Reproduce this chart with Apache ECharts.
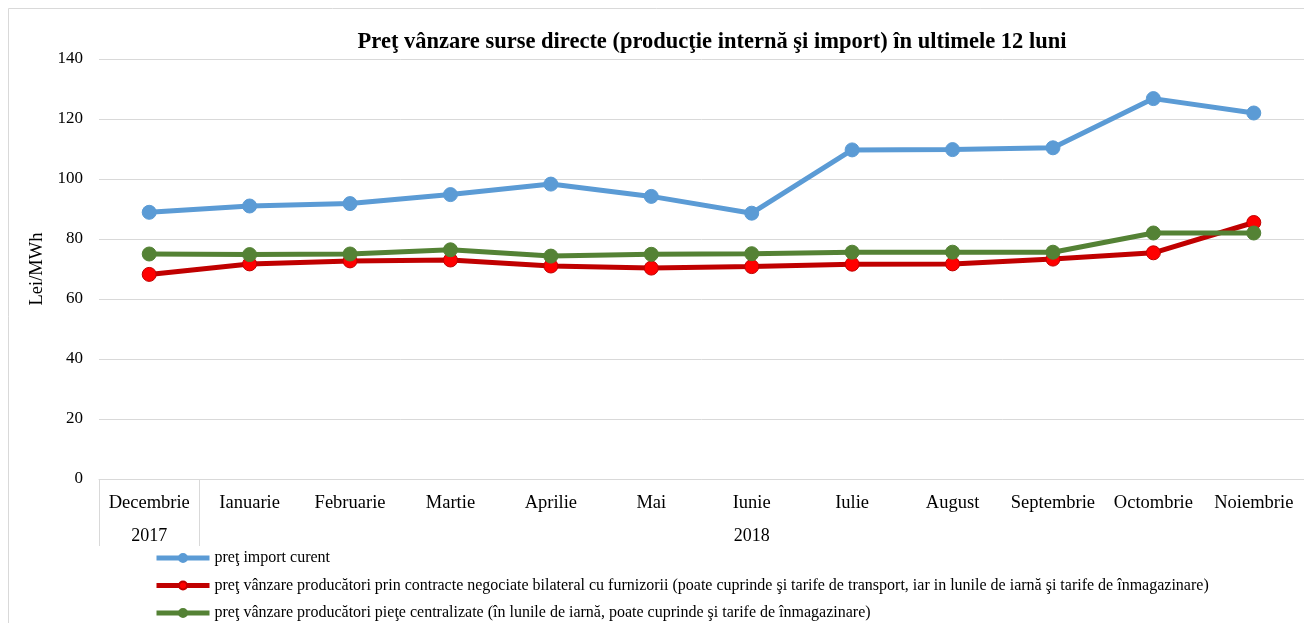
<!DOCTYPE html>
<html>
<head>
<meta charset="utf-8">
<script src="https://cdn.jsdelivr.net/npm/echarts@6/dist/echarts.min.js"></script>
<style>
  html, body { margin: 0; padding: 0; background: #fff; }
  #chart { width: 1304px; height: 623px; }
</style>
</head>
<body>
<div id="chart"></div>
<script>
// luni si ani
var months = ['Decembrie', 'Ianuarie', 'Februarie', 'Martie', 'Aprilie', 'Mai', 'Iunie',
  'Iulie', 'August', 'Septembrie', 'Octombrie', 'Noiembrie'];
var yearLabels = ['2017', '', '', '', '', '', '2018', '', '', '', '', ''];

// Lei/MWh
var importCurent = [88.9, 91.0, 91.8, 94.8, 98.3, 94.2, 88.6, 109.7, 109.8, 110.4, 126.8, 122.0];
var bilateral = [68.2, 71.7, 72.7, 73.0, 71.0, 70.3, 70.8, 71.6, 71.7, 73.3, 75.4, 85.5];
var centralizate = [75.0, 74.8, 75.0, 76.4, 74.3, 74.9, 75.1, 75.6, 75.6, 75.6, 82.0, 82.0];

var seriesNames = [
  'preţ import curent',
  'preţ vânzare producători prin contracte negociate bilateral cu furnizorii (poate cuprinde şi tarife de transport, iar in lunile de iarnă şi tarife de înmagazinare)',
  'preţ vânzare producători pieţe centralizate (în lunile de iarnă, poate cuprinde şi tarife de înmagazinare)'
];

var font = '"Liberation Serif", "Times New Roman", serif';
var chart = echarts.init(document.getElementById('chart'));

function lineSeries(name, data, lineColor, dotColor) {
  return {
    name: name,
    type: 'line',
    data: data,
    symbol: 'circle',
    symbolSize: 14,
    lineStyle: { width: 5, color: lineColor },
    itemStyle: { color: dotColor, borderColor: lineColor, borderWidth: 1 },
    emphasis: { disabled: true }
  };
}

var option = {
  backgroundColor: '#fff',
  animation: false,
  textStyle: { fontFamily: font, color: '#000' },
  title: {
    text: 'Preţ vânzare surse directe (producţie internă şi import) în ultimele 12 luni',
    left: 707,
    top: 26,
    textAlign: 'center',
    textStyle: { fontFamily: font, fontSize: 22.5, fontWeight: 'bold', color: '#000' }
  },
  graphic: [{
    type: 'rect',
    shape: { x: 8.5, y: 8.5, width: 1320, height: 640 },
    style: { fill: 'none', stroke: '#d9d9d9', lineWidth: 1 },
    silent: true,
    z: -10
  }],
  legend: {
    orient: 'vertical',
    left: 154,
    top: 550,
    padding: 0,
    itemWidth: 53,
    itemHeight: 10,
    itemGap: 11.5,
    lineStyle: { width: 5 },
    textStyle: { fontFamily: font, fontSize: 16, lineHeight: 16, color: '#000' },
    data: seriesNames
  },
  grid: { left: 99, right: -6, top: 59, bottom: 144 },
  xAxis: [{
    type: 'category',
    data: months,
    boundaryGap: true,
    axisLine: { lineStyle: { color: '#d9d9d9', width: 1 } },
    axisTick: {
      show: true,
      length: 67,
      interval: function (i) { return i <= 1; },
      lineStyle: { color: '#d9d9d9', width: 1 }
    },
    axisLabel: { fontFamily: font, fontSize: 18.5, color: '#000', margin: 15, interval: 0 }
  }, {
    type: 'category',
    data: months,
    position: 'bottom',
    boundaryGap: true,
    axisLine: { show: false },
    axisTick: { show: false },
    axisLabel: {
      fontFamily: font, fontSize: 18, color: '#000', margin: 48, interval: 0,
      formatter: function (v, i) { return yearLabels[i]; }
    }
  }],
  yAxis: {
    type: 'value',
    min: 0,
    max: 140,
    interval: 20,
    name: 'Lei/MWh',
    nameLocation: 'middle',
    nameGap: 46,
    nameTextStyle: { fontFamily: font, fontSize: 18.5, color: '#000' },
    axisLine: { show: false },
    axisTick: { show: false },
    splitLine: { lineStyle: { color: '#d9d9d9', width: 1 } },
    axisLabel: { fontFamily: font, fontSize: 17, color: '#000', margin: 16 }
  },
  series: [
    lineSeries(seriesNames[0], importCurent, '#5b9bd5', '#5b9bd5'),
    lineSeries(seriesNames[1], bilateral, '#c00000', '#ff0000'),
    lineSeries(seriesNames[2], centralizate, '#548235', '#548235')
  ]
};

chart.setOption(option);
</script>
</body>
</html>
